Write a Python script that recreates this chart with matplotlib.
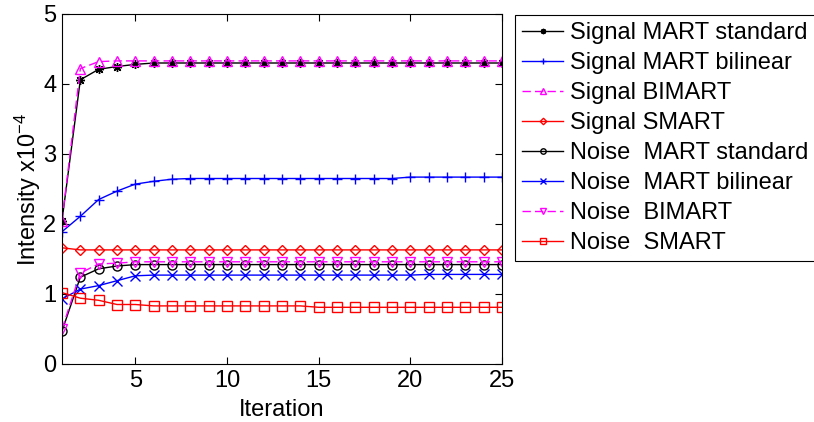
import numpy as np
import matplotlib
matplotlib.use('Agg')
import matplotlib.pyplot as plt

plt.rcParams['font.family'] = ['Liberation Sans', 'DejaVu Sans']
plt.rcParams['mathtext.fontset'] = 'custom'
plt.rcParams['mathtext.rm'] = 'Liberation Sans'
plt.rcParams['mathtext.default'] = 'regular'

iters = np.arange(1, 26)

sig_mart_std = [2.05, 4.06, 4.21, 4.25, 4.28] + [4.30] * 20
sig_mart_bil = [1.89, 2.11, 2.35, 2.47, 2.57, 2.61, 2.64] + [2.65] * 12 + [2.67] * 6
sig_bimart = [2.05, 4.22, 4.32] + [4.33] * 22
sig_smart = [1.66] + [1.63] * 24
noi_mart_std = [0.47, 1.24, 1.36, 1.40] + [1.42] * 21
noi_mart_bil = [0.93, 1.07, 1.12, 1.19, 1.26] + [1.27] * 15 + [1.28] * 5
noi_bimart = [0.50, 1.30, 1.43, 1.44] + [1.46] * 21
noi_smart = [1.02, 0.94, 0.91, 0.85, 0.85] + [0.83] * 9 + [0.81] * 11

labels = ['Signal MART standard', 'Signal MART bilinear', 'Signal BIMART',
          'Signal SMART', 'Noise  MART standard', 'Noise  MART bilinear',
          'Noise  BIMART', 'Noise  SMART']

series = [sig_mart_std, sig_mart_bil, sig_bimart, sig_smart,
          noi_mart_std, noi_mart_bil, noi_bimart, noi_smart]
styles = [('k', (8, 2, 0), '-'), ('#0000ff', '+', '-'), ('#ff00ff', '^', '--'),
          ('#ff0000', 'D', '-'), ('k', 'o', '-'), ('#0000ff', 'x', '-'),
          ('#ff00ff', 'v', '--'), ('#ff0000', 's', '-')]

fig = plt.figure(figsize=(8.14, 4.22), dpi=100)
ax = fig.add_axes([62 / 814, 58 / 422, 440 / 814, 350 / 422])

for vals, lab, (c, m, ls) in zip(series, labels, styles):
    ms = 5.5 if m == 'D' else 6.5
    line, = ax.plot(iters, vals, color=c, marker=m, linestyle=ls, linewidth=1,
                    markersize=ms, markerfacecolor='none', markeredgecolor=c,
                    markeredgewidth=1, label=lab)
    if ls == '--':
        line.set_dashes((6, 3))

ax.set_xlim(1, 25)
ax.set_ylim(0, 5)
ax.set_xticks([5, 10, 15, 20, 25])
ax.set_yticks([0, 1, 2, 3, 4, 5])
ax.tick_params(direction='in', top=True, right=True, labelsize=17,
               length=5, width=0.8, pad=4)
for s in ax.spines.values():
    s.set_linewidth(0.8)
ax.set_xlabel('Iteration', fontsize=17, labelpad=5)
ax.set_ylabel('Intensity x10$^{-4}$', fontsize=17, labelpad=0)

leg = ax.legend(loc='upper left', bbox_to_anchor=(515 / 814, 1 - 15 / 422),
                bbox_transform=fig.transFigure, borderaxespad=0,
                fontsize=17, fancybox=False, edgecolor='k', framealpha=1,
                handlelength=1.75, handletextpad=0.3, labelspacing=0.34,
                borderpad=0.3, markerscale=0.6)
leg.get_frame().set_linewidth(0.8)

fig.savefig('out.png', dpi=100)
